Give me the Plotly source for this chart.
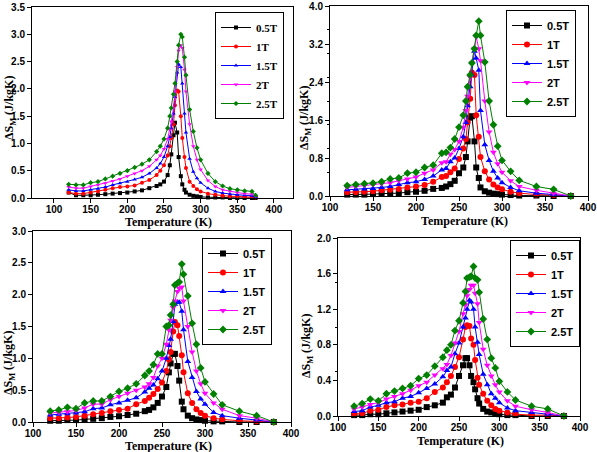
import plotly.graph_objects as go

# ---------------- data ----------------
fields = ["0.5T", "1T", "1.5T", "2T", "2.5T"]

T1 = [120,130,140,150,160,170,180,190,200,210,220,230,240,245,250,255,258,260,263,265,268,270,273,275,278,280,285,290,295,300,310,320,330,340,350,360,370,375]
p1_05 = [0.10,0.05,0.05,0.05,0.06,0.07,0.08,0.09,0.10,0.12,0.14,0.18,0.22,0.25,0.30,0.42,0.60,0.80,1.15,1.38,1.20,0.75,0.40,0.25,0.15,0.10,0.06,0.04,0.03,0.02,0.01,0.01,0.01,0.00,0.00,0.00,0.00,0.00]
p1_1 = [0.10,0.08,0.08,0.10,0.12,0.15,0.18,0.20,0.21,0.23,0.28,0.33,0.42,0.50,0.60,0.78,0.95,1.10,1.35,1.70,1.97,1.95,1.50,1.10,0.75,0.55,0.30,0.22,0.16,0.12,0.08,0.06,0.04,0.03,0.03,0.02,0.02,0.01]
p1_15 = [0.15,0.13,0.13,0.15,0.17,0.20,0.24,0.27,0.30,0.34,0.38,0.45,0.55,0.63,0.75,0.95,1.12,1.28,1.55,1.85,2.30,2.45,2.40,2.10,1.55,1.20,0.72,0.48,0.36,0.28,0.18,0.12,0.09,0.07,0.06,0.05,0.04,0.02]
p1_2 = [0.20,0.18,0.18,0.21,0.24,0.27,0.31,0.35,0.40,0.45,0.50,0.58,0.70,0.78,0.90,1.08,1.25,1.40,1.65,1.95,2.40,2.70,2.80,2.75,2.35,1.95,1.35,0.95,0.70,0.52,0.32,0.21,0.15,0.12,0.10,0.08,0.07,0.03]
p1_25 = [0.25,0.24,0.24,0.28,0.30,0.35,0.40,0.45,0.50,0.56,0.62,0.70,0.85,0.95,1.08,1.28,1.50,1.65,1.90,2.10,2.50,2.80,3.00,2.95,2.58,2.25,1.62,1.22,0.92,0.70,0.45,0.30,0.22,0.17,0.15,0.13,0.12,0.05]

T2 = [120,130,140,150,160,170,180,190,200,210,220,230,235,240,245,250,255,258,260,263,265,268,270,273,275,280,285,290,295,300,310,320,340,360,380]
p2_05 = [0.03,0.03,0.03,0.04,0.05,0.05,0.06,0.08,0.09,0.11,0.15,0.17,0.20,0.25,0.32,0.48,0.60,0.82,1.15,1.65,1.68,1.15,0.60,0.38,0.18,0.10,0.07,0.05,0.04,0.03,0.02,0.01,0.01,0.00,0.00]
p2_1 = [0.08,0.08,0.09,0.10,0.12,0.13,0.15,0.18,0.20,0.23,0.30,0.40,0.42,0.50,0.58,0.78,1.00,1.20,1.55,2.05,2.60,2.55,1.70,1.25,0.82,0.52,0.35,0.24,0.18,0.14,0.09,0.06,0.03,0.02,0.00]
p2_15 = [0.13,0.14,0.15,0.16,0.18,0.20,0.24,0.28,0.30,0.35,0.42,0.55,0.58,0.72,0.80,1.00,1.25,1.55,1.90,2.30,2.55,3.05,2.90,2.65,1.80,1.08,0.75,0.52,0.38,0.28,0.18,0.11,0.06,0.03,0.00]
p2_2 = [0.18,0.20,0.22,0.24,0.26,0.28,0.32,0.36,0.40,0.48,0.55,0.70,0.72,0.88,0.98,1.15,1.45,1.80,2.10,2.50,2.80,3.10,3.35,3.10,2.85,2.00,1.35,0.92,0.68,0.50,0.32,0.20,0.12,0.06,0.00]
p2_25 = [0.22,0.24,0.26,0.27,0.30,0.36,0.38,0.48,0.50,0.60,0.65,0.90,0.92,1.02,1.20,1.45,1.70,2.00,2.30,2.55,2.80,3.10,3.38,3.68,3.38,2.82,2.00,1.50,1.05,0.75,0.52,0.33,0.20,0.14,0.00]

T3 = T2
p3_05 = [0.02,0.02,0.03,0.03,0.04,0.05,0.06,0.08,0.09,0.11,0.13,0.17,0.19,0.23,0.30,0.40,0.55,0.78,0.92,1.07,1.07,0.88,0.65,0.32,0.20,0.10,0.06,0.04,0.03,0.02,0.01,0.01,0.00,0.00,0.00]
p3_1 = [0.06,0.06,0.07,0.08,0.10,0.12,0.14,0.17,0.19,0.21,0.28,0.33,0.38,0.44,0.52,0.62,0.80,0.98,1.10,1.42,1.57,1.52,1.35,1.05,0.78,0.45,0.30,0.20,0.14,0.10,0.06,0.04,0.02,0.01,0.00]
p3_15 = [0.11,0.12,0.13,0.14,0.16,0.21,0.22,0.27,0.30,0.34,0.38,0.47,0.53,0.58,0.68,0.80,1.00,1.20,1.30,1.58,1.85,1.88,1.88,1.74,1.45,0.95,0.70,0.48,0.36,0.28,0.15,0.10,0.06,0.03,0.00]
p3_2 = [0.14,0.15,0.16,0.18,0.22,0.28,0.28,0.35,0.40,0.45,0.50,0.55,0.60,0.70,0.88,1.00,1.22,1.45,1.60,1.80,1.90,2.05,2.10,2.12,1.90,1.50,1.10,0.80,0.60,0.45,0.30,0.20,0.10,0.06,0.00]
p3_25 = [0.17,0.19,0.23,0.21,0.30,0.33,0.33,0.40,0.48,0.53,0.60,0.73,0.80,0.90,1.07,1.07,1.50,1.52,1.68,1.85,2.15,2.18,2.20,2.48,2.32,1.98,1.55,1.22,0.85,0.63,0.44,0.27,0.17,0.10,0.00]

T4 = T2
p4_05 = [0.01,0.01,0.02,0.02,0.03,0.04,0.05,0.06,0.07,0.10,0.12,0.15,0.21,0.24,0.32,0.45,0.57,0.65,0.65,0.57,0.45,0.38,0.30,0.20,0.14,0.08,0.05,0.04,0.03,0.02,0.01,0.01,0.00,0.00,0.00]
p4_1 = [0.02,0.03,0.06,0.07,0.10,0.12,0.13,0.15,0.16,0.20,0.27,0.32,0.38,0.45,0.55,0.66,0.86,1.00,1.02,1.01,0.87,0.80,0.63,0.43,0.35,0.25,0.17,0.12,0.08,0.06,0.04,0.02,0.01,0.01,0.00]
p4_15 = [0.05,0.06,0.10,0.12,0.15,0.16,0.20,0.22,0.26,0.31,0.36,0.44,0.51,0.55,0.70,0.82,1.00,1.10,1.20,1.30,1.28,1.20,1.00,0.83,0.69,0.47,0.35,0.25,0.20,0.15,0.09,0.06,0.04,0.02,0.00]
p4_2 = [0.08,0.10,0.13,0.15,0.19,0.22,0.25,0.29,0.34,0.38,0.46,0.53,0.58,0.68,0.82,0.95,1.15,1.25,1.35,1.42,1.47,1.47,1.38,1.26,1.05,0.75,0.57,0.45,0.35,0.27,0.17,0.11,0.07,0.04,0.00]
p4_25 = [0.11,0.14,0.19,0.17,0.25,0.28,0.31,0.34,0.42,0.46,0.56,0.66,0.74,0.80,0.96,1.07,1.27,1.40,1.55,1.56,1.57,1.68,1.55,1.53,1.39,1.09,0.86,0.65,0.54,0.39,0.27,0.18,0.11,0.08,0.00]

# ---------------- styling ----------------
colors = ["#000000", "#FF0000", "#0000FF", "#FF00FF", "#008000"]
symbols = ["square", "circle", "triangle-up", "triangle-down", "diamond"]
W, H = 597, 452

def fx(px):
    return px / W

def fy(py):
    return 1 - py / H

panels = [
    dict(T=T1, ys=[p1_05, p1_1, p1_15, p1_2, p1_25], box=(32, 293, 7, 198), xr=[70, 426], yr=[0, 3.5], dy=0.5,
         msize=4, lfont="Liberation Serif", leg=(284, 12), xt=(168, 222), yt=(10, 108)),
    dict(T=T2, ys=[p2_05, p2_1, p2_15, p2_2, p2_25], box=(330, 588, 6, 196), xr=[100, 400], yr=[0, 4.0], dy=0.8,
         msize=6, lfont="Liberation Sans", leg=(576, 10), xt=(464, 221), yt=(305, 118)),
    dict(T=T3, ys=[p3_05, p3_1, p3_15, p3_2, p3_25], box=(33, 291, 231, 422), xr=[100, 400], yr=[0, 3.0], dy=0.5,
         msize=6, lfont="Liberation Sans", leg=(272, 238), xt=(168, 446), yt=(9, 363)),
    dict(T=T4, ys=[p4_05, p4_1, p4_15, p4_2, p4_25], box=(338, 580, 238, 416), xr=[100, 400], yr=[0, 2.0], dy=0.4,
         msize=6, lfont="Liberation Sans", leg=(580, 240), xt=(460, 441), yt=(307, 346)),
]

fig = go.Figure()
layout = dict(width=W, height=H, margin=dict(l=0, r=0, t=0, b=0, autoexpand=False), paper_bgcolor="white",
              plot_bgcolor="white", showlegend=True)
annotations = []
tickfont = dict(family="Liberation Sans", size=10, color="black", weight="bold")
titlefont = dict(family="Liberation Serif", size=12, color="black", weight="bold")

for k, p in enumerate(panels):
    n = k + 1
    xa = "x" if n == 1 else f"x{n}"
    ya = "y" if n == 1 else f"y{n}"
    legname = "legend" if n == 1 else f"legend{n}"
    for i, name in enumerate(fields):
        fig.add_trace(go.Scatter(
            x=p["T"], y=p["ys"][i], name=name, mode="lines+markers",
            xaxis=xa, yaxis=ya, legend=legname,
            line=dict(color=colors[i], width=1),
            marker=dict(symbol=symbols[i], size=p["msize"], color=colors[i], line=dict(width=0)),
            cliponaxis=False,
        ))
    l, r, t, b = p["box"]
    axcommon = dict(showline=True, linecolor="black", linewidth=1, mirror=True, showgrid=False,
                    zeroline=False, ticks="outside", ticklen=4, tickwidth=1, tickcolor="black",
                    tickfont=tickfont, automargin=False,
                    minor=dict(ticks="outside", ticklen=2, tickcolor="black", nticks=2))
    layout["xaxis" if n == 1 else f"xaxis{n}"] = dict(
        axcommon, domain=[fx(l), fx(r)], range=p["xr"], tickvals=[100, 150, 200, 250, 300, 350, 400],
        anchor=ya, ticklabelstandoff=-2)
    nt = int(round(p["yr"][1] / p["dy"]))
    yt_vals = [round(j * p["dy"], 2) for j in range(nt + 1)]
    layout["yaxis" if n == 1 else f"yaxis{n}"] = dict(
        axcommon, domain=[fy(b), fy(t)], range=p["yr"], tickvals=yt_vals,
        ticktext=[f"{v:.1f}" for v in yt_vals], anchor=xa)
    layout[legname] = dict(
        x=fx(p["leg"][0]), y=fy(p["leg"][1]), xanchor="right", yanchor="top",
        bordercolor="black", borderwidth=1, bgcolor="white",
        font=dict(family=p["lfont"], size=11, color="black", weight="bold"),
        itemwidth=30, tracegroupgap=0)
    annotations.append(dict(text="Temperature (K)", x=fx(p["xt"][0]), y=fy(p["xt"][1]), xref="paper",
                            yref="paper", showarrow=False, font=titlefont, xanchor="center", yanchor="middle"))
    annotations.append(dict(text="ΔS<sub>M</sub> (J/kgK)", x=fx(p["yt"][0]), y=fy(p["yt"][1]), xref="paper",
                            yref="paper", showarrow=False, font=titlefont, textangle=-90,
                            xanchor="center", yanchor="middle"))

layout["annotations"] = annotations
fig.update_layout(**layout)
fig.write_html("out.html", config={"displayModeBar": False},
               post_script="document.body.style.margin='0';document.body.style.padding='0';document.body.style.overflow='hidden';")
